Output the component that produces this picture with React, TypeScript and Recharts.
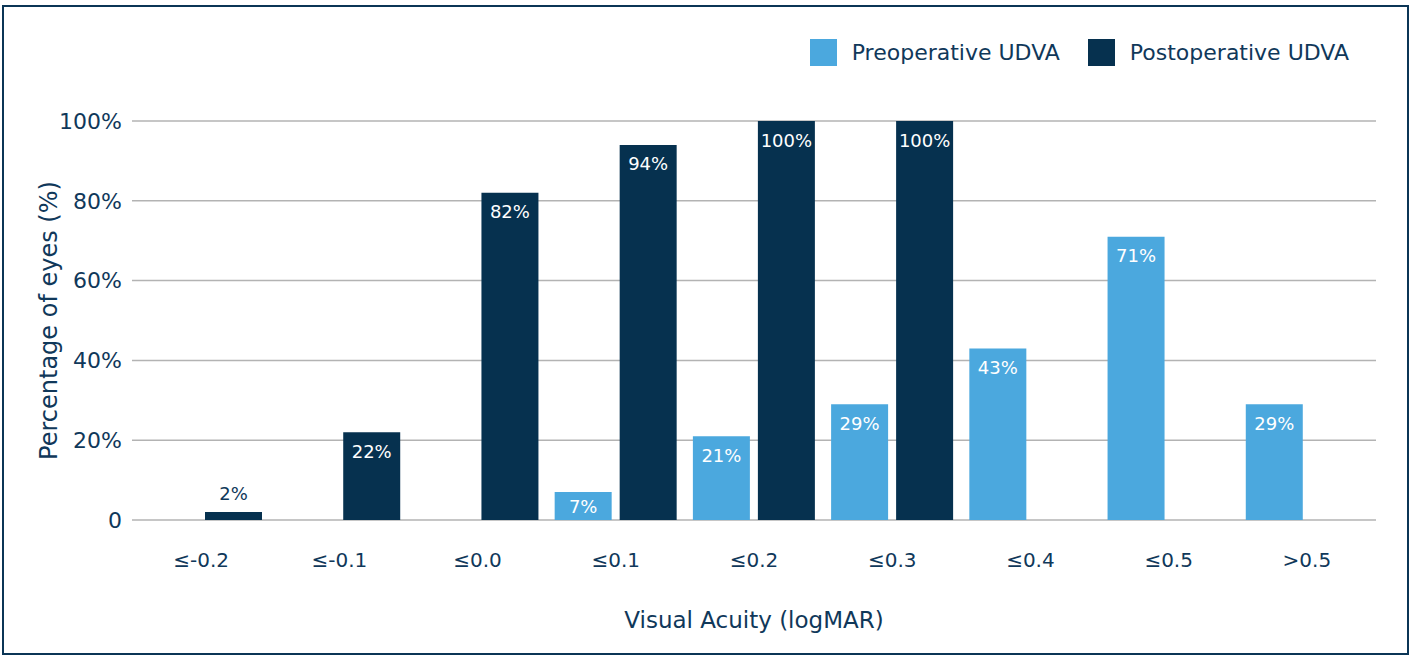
import React from 'react';
import { BarChart, Bar, XAxis, YAxis, CartesianGrid, LabelList } from 'recharts';

const categories = ['≤-0.2', '≤-0.1', '≤0.0', '≤0.1', '≤0.2', '≤0.3', '≤0.4', '≤0.5', '>0.5'];
const preoperative = [0, 0, 0, 7, 21, 29, 43, 71, 29];
const postoperative = [2, 22, 82, 94, 100, 100, 0, 0, 0];
const yTicks = [0, 20, 40, 60, 80, 100];
const seriesNames = ['Preoperative UDVA', 'Postoperative UDVA'];

const PRE = '#4BA8DE';
const POST = '#06314F';
const TEXT = '#10385A';
const FONT = '"DejaVu Sans", sans-serif';

const data = categories.map((c, i) => ({ cat: c, pre: preoperative[i], post: postoperative[i] }));

const renderLabel = (props: any) => {
  const { x, y, width, height, value } = props;
  if (!value) return null;
  const cx = x + width / 2;
  if (value < 5) {
    return (
      <text x={cx} y={y - 19} textAnchor="middle" dominantBaseline="central" fill={TEXT} fontSize={18} fontFamily={FONT}>
        {value}%
      </text>
    );
  }
  const dy = Math.min(19, height / 2);
  return (
    <text x={cx} y={y + dy} textAnchor="middle" dominantBaseline="central" fill="#ffffff" fontSize={18} fontFamily={FONT}>
      {value}%
    </text>
  );
};

export default function App() {
  return (
    <div style={{ position: 'absolute', left: 0, top: 0, width: 1413, height: 658, background: '#fff' }}>
      <div
        style={{
          position: 'absolute',
          left: 2,
          top: 5,
          width: 1407,
          height: 650,
          border: '2px solid #0B3556',
          boxSizing: 'border-box',
        }}
      />
      <div
        style={{
          position: 'absolute',
          right: 64,
          top: 39,
          display: 'flex',
          alignItems: 'center',
          fontFamily: FONT,
          fontSize: 22,
          color: TEXT,
          zIndex: 2,
        }}
      >
        <span style={{ display: 'inline-block', width: 27, height: 27, background: PRE, marginRight: 15 }} />
        <span style={{ marginRight: 28 }}>{seriesNames[0]}</span>
        <span style={{ display: 'inline-block', width: 27, height: 27, background: POST, marginRight: 15 }} />
        <span>{seriesNames[1]}</span>
      </div>
      <BarChart
        width={1413}
        height={658}
        data={data}
        margin={{ top: 121, right: 37, bottom: 78, left: 32 }}
        barSize={57}
        barGap={8}
        style={{ position: 'absolute', left: 0, top: 0 }}
      >
        <CartesianGrid vertical={false} stroke="#B3B3B3" strokeWidth={1.5} />
        <XAxis
          dataKey="cat"
          axisLine={false}
          tickLine={false}
          tickSize={0}
          tickMargin={33}
          height={60}
          tick={{ fill: TEXT, fontSize: 20, fontFamily: FONT }}
          label={{ value: 'Visual Acuity (logMAR)', position: 'insideBottom', offset: -48, fill: TEXT, fontSize: 23, fontFamily: FONT }}
        />
        <YAxis
          width={100}
          domain={[0, 100]}
          ticks={yTicks}
          axisLine={false}
          tickLine={false}
          tickSize={0}
          tickMargin={10}
          tick={{ fill: TEXT, fontSize: 22, fontFamily: FONT }}
          tickFormatter={(v: number) => (v === 0 ? '0' : `${v}%`)}
          label={{ value: 'Percentage of eyes (%)', angle: -90, position: 'insideLeft', offset: 16, style: { textAnchor: 'middle' }, fill: TEXT, fontSize: 24, fontFamily: FONT }}
        />
        <Bar dataKey="pre" name={seriesNames[0]} fill={PRE} isAnimationActive={false}>
          <LabelList dataKey="pre" content={renderLabel} />
        </Bar>
        <Bar dataKey="post" name={seriesNames[1]} fill={POST} isAnimationActive={false}>
          <LabelList dataKey="post" content={renderLabel} />
        </Bar>
      </BarChart>
    </div>
  );
}
